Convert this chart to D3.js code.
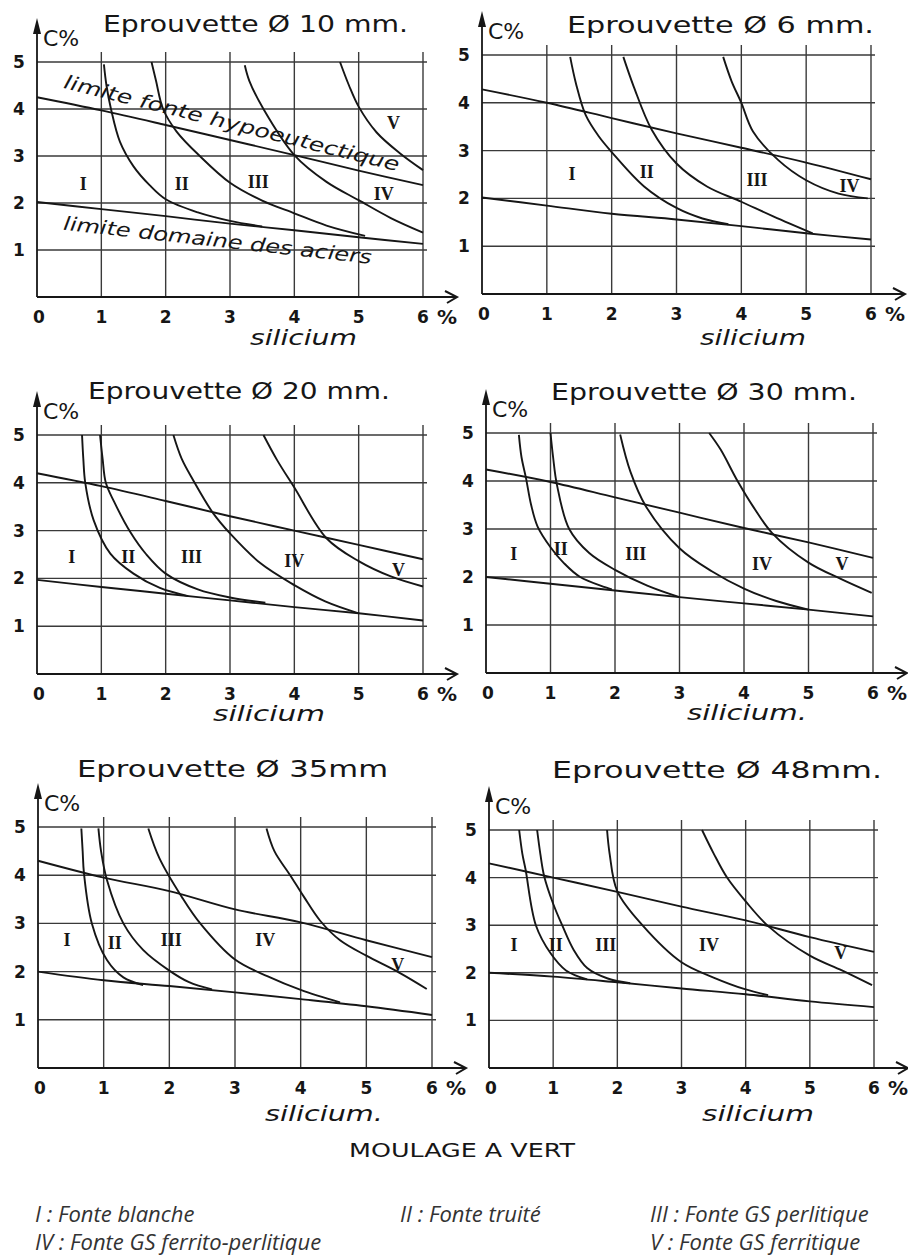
<!DOCTYPE html>
<html>
<head>
<meta charset="utf-8">
<script src="https://cdn.jsdelivr.net/npm/d3@7"></script>
<style>
  body { margin: 0; background: #fff; }
  svg { display: block; }
</style>
</head>
<body>
<div id="chart"></div>
<script>
// ---- data (Si %, C %) ----
const siTicks = [0, 1, 2, 3, 4, 5, 6];
const cTicks = [1, 2, 3, 4, 5];
const titles = ["Eprouvette Ø 10 mm.", "Eprouvette Ø 6 mm.", "Eprouvette Ø 20 mm.",
                "Eprouvette Ø 30 mm.", "Eprouvette Ø 35mm", "Eprouvette Ø 48mm."];
const xTitles = ["silicium", "silicium", "silicium", "silicium.", "silicium.", "silicium"];
const zoneNames = ["I", "II", "III", "IV", "V"];

// 10 mm
const upper10 = [[0,4.25],[1,3.97],[2,3.66],[3,3.34],[4,3.02],[5,2.69],[6,2.38]];
const lower10 = [[0,2.02],[1,1.87],[2,1.72],[3,1.56],[4,1.42],[5,1.27],[6,1.13]];
const curves10 = [
  [[1.04,4.95],[1.08,4.5],[1.15,4.0],[1.29,3.3],[1.5,2.78],[1.75,2.38],[2.0,2.08],[2.5,1.8],[3.0,1.62],[3.5,1.5]],
  [[1.78,5.0],[1.85,4.6],[1.96,4.0],[2.17,3.52],[2.53,3.0],[3.0,2.43],[3.5,2.05],[4.0,1.78],[4.5,1.52],[5.1,1.3]],
  [[3.23,4.93],[3.3,4.6],[3.52,4.0],[4.0,3.02],[4.5,2.45],[5.0,2.06],[5.5,1.68],[6.0,1.37]],
  [[4.71,5.0],[4.85,4.5],[5.0,4.05],[5.28,3.5],[5.64,3.06],[6.0,2.7]]
];
const labels10 = [[0.72,2.42],[2.25,2.42],[3.44,2.45],[5.39,2.2],[5.54,3.7]];

// 6 mm
const upper6 = [[0,4.28],[1,4.0],[2,3.68],[3,3.36],[4,3.06],[5,2.75],[6,2.4]];
const lower6 = [[0,2.02],[1,1.85],[2,1.68],[3,1.56],[4,1.42],[5,1.27],[6,1.14]];
const curves6 = [
  [[1.36,4.96],[1.45,4.4],[1.6,3.74],[1.8,3.3],[2.0,2.97],[2.5,2.25],[3.0,1.8],[3.4,1.58],[3.8,1.46]],
  [[2.18,4.96],[2.34,4.34],[2.62,3.43],[3.0,2.73],[3.47,2.25],[4.0,1.93],[4.5,1.62],[5.1,1.27]],
  [[3.72,4.96],[3.85,4.45],[4.0,4.0],[4.18,3.4],[4.57,2.8],[5.0,2.38],[5.5,2.1],[5.95,2.0]]
];
const labels6 = [[1.39,2.52],[2.54,2.56],[4.24,2.39],[5.67,2.26]];

// 20 mm
const upper20 = [[0,4.2],[1,3.93],[2,3.62],[3,3.3],[4,3.0],[5,2.7],[6,2.4]];
const lower20 = [[0,1.97],[1,1.82],[2,1.68],[3,1.54],[4,1.4],[5,1.27],[6,1.12]];
const curves20 = [
  [[0.7,5.0],[0.72,4.5],[0.75,4.0],[0.88,3.22],[1.14,2.52],[1.5,2.1],[1.91,1.8],[2.35,1.63]],
  [[0.98,5.0],[1.02,4.5],[1.07,4.0],[1.2,3.6],[1.45,2.97],[1.7,2.5],[2.0,2.1],[2.5,1.77],[3.0,1.6],[3.55,1.49]],
  [[2.12,5.0],[2.25,4.5],[2.43,4.05],[2.74,3.36],[3.0,2.94],[3.47,2.32],[4.0,1.86],[4.48,1.52],[5.0,1.27]],
  [[3.52,5.0],[3.73,4.48],[4.0,3.9],[4.5,2.84],[5.0,2.36],[5.5,2.04],[6.0,1.83]]
];
const labels20 = [[0.54,2.45],[1.42,2.45],[2.4,2.45],[4.0,2.38],[5.62,2.18]];

// 30 mm
const upper30 = [[0,4.24],[1,3.98],[2,3.66],[3,3.34],[4,3.02],[5,2.72],[6,2.4]];
const lower30 = [[0,2.0],[1,1.86],[2,1.72],[3,1.58],[4,1.45],[5,1.32],[6,1.18]];
const curves30 = [
  [[0.51,4.96],[0.55,4.5],[0.62,4.06],[0.7,3.5],[0.8,3.05],[1.0,2.62],[1.2,2.3],[1.46,2.0],[1.95,1.74]],
  [[1.0,5.0],[1.04,4.5],[1.1,3.92],[1.29,3.0],[1.6,2.5],[2.0,2.15],[2.5,1.82],[3.0,1.58]],
  [[2.08,4.97],[2.24,4.19],[2.48,3.47],[3.0,2.6],[3.5,2.12],[4.0,1.76],[4.5,1.5],[5.0,1.32]],
  [[3.46,5.0],[3.64,4.65],[3.9,4.0],[4.15,3.45],[4.44,2.91],[5.0,2.3],[5.5,1.96],[5.98,1.67]]
];
const labels30 = [[0.43,2.49],[1.16,2.6],[2.32,2.49],[4.28,2.28],[5.52,2.28]];

// 35 mm
const upper35 = [[0,4.3],[1,3.95],[2,3.67],[3,3.29],[4,3.02],[5,2.65],[6,2.3]];
const lower35 = [[0,2.0],[1,1.82],[2,1.7],[3,1.57],[4,1.43],[5,1.28],[6,1.1]];
const curves35 = [
  [[0.66,4.97],[0.68,4.5],[0.7,4.04],[0.82,3.0],[1.05,2.24],[1.3,1.88],[1.6,1.72]],
  [[0.92,4.97],[0.96,4.5],[1.05,3.9],[1.3,3.0],[1.6,2.45],[2.0,2.02],[2.3,1.78],[2.65,1.63]],
  [[1.68,4.97],[1.85,4.35],[2.19,3.55],[2.47,3.0],[3.0,2.25],[3.5,1.9],[4.0,1.62],[4.6,1.36]],
  [[3.48,4.97],[3.6,4.5],[3.84,4.0],[4.05,3.55],[4.3,3.05],[4.6,2.65],[5.0,2.33],[5.5,1.98],[5.92,1.64]]
];
const labels35 = [[0.44,2.66],[1.17,2.6],[2.03,2.66],[3.46,2.66],[5.48,2.14]];

// 48 mm
const upper48 = [[0,4.3],[1,4.0],[2,3.7],[3,3.39],[4,3.1],[5,2.75],[6,2.44]];
const lower48 = [[0,2.0],[1,1.92],[2,1.8],[3,1.67],[4,1.55],[5,1.4],[6,1.28]];
const curves48 = [
  [[0.47,5.0],[0.52,4.5],[0.57,4.17],[0.73,3.0],[0.96,2.41],[1.2,2.05],[1.53,1.86]],
  [[0.75,5.0],[0.8,4.5],[0.86,4.03],[1.0,3.45],[1.14,3.0],[1.32,2.48],[1.53,2.1],[1.85,1.88],[2.2,1.78]],
  [[1.84,5.0],[1.88,4.5],[2.0,3.71],[2.39,3.0],[3.0,2.22],[3.5,1.9],[4.0,1.65],[4.35,1.53]],
  [[3.32,5.0],[3.5,4.51],[3.71,4.0],[4.0,3.5],[4.36,2.97],[5.0,2.36],[5.5,2.05],[5.97,1.74]]
];
const labels48 = [[0.39,2.58],[1.04,2.6],[1.82,2.58],[3.43,2.58],[5.48,2.42]];

const legendText = ["I : Fonte blanche", "II : Fonte truité", "III : Fonte GS perlitique",
                    "IV : Fonte GS ferrito-perlitique", "V : Fonte GS ferritique"];

// ---- layout ----
const W = 908, H = 1256;
const hand = "'DejaVu Sans', sans-serif";
const ink = "#161616";

const panels = [
  { upper: upper10, lower: lower10, curves: curves10, labels: labels10,
    frame: { x0: 37, x6: 423, y0: 297, y5: 62 }, title: { x: 103, w: 305, y: 32 }, xt: { x: 250, w: 107, y: 345 } },
  { upper: upper6, lower: lower6, curves: curves6, labels: labels6,
    frame: { x0: 482, x6: 871, y0: 294, y5: 55 }, title: { x: 567, w: 307, y: 33 }, xt: { x: 700, w: 106, y: 345 } },
  { upper: upper20, lower: lower20, curves: curves20, labels: labels20,
    frame: { x0: 37, x6: 423, y0: 674, y5: 435 }, title: { x: 88, w: 302, y: 399 }, xt: { x: 213, w: 112, y: 721 } },
  { upper: upper30, lower: lower30, curves: curves30, labels: labels30,
    frame: { x0: 486, x6: 873, y0: 673, y5: 433 }, title: { x: 551, w: 306, y: 400 }, xt: { x: 687, w: 120, y: 720 } },
  { upper: upper35, lower: lower35, curves: curves35, labels: labels35,
    frame: { x0: 38, x6: 432, y0: 1068, y5: 827 }, title: { x: 77, w: 311, y: 777 }, xt: { x: 265, w: 118, y: 1121 } },
  { upper: upper48, lower: lower48, curves: curves48, labels: labels48,
    frame: { x0: 489, x6: 874, y0: 1068, y5: 830 }, title: { x: 552, w: 330, y: 778 }, xt: { x: 702, w: 112, y: 1121 } }
];

const svg = d3.select("#chart").append("svg")
    .attr("width", W)
    .attr("height", H);

svg.append("rect").attr("width", W).attr("height", H).attr("fill", "#fff");

panels.forEach((p, i) => {
    const f = p.frame;
    const x = d3.scaleLinear().domain([0, 6]).range([f.x0, f.x6]);
    const y = d3.scaleLinear().domain([0, 5]).range([f.y0, f.y5]);
    const g = svg.append("g");

    // grid
    g.append("g").selectAll("line")
        .data(siTicks.slice(1))
        .join("line")
        .attr("x1", d => x(d)).attr("x2", d => x(d))
        .attr("y1", y(0)).attr("y2", y(5) - 10)
        .attr("stroke", "#3a3a3a").attr("stroke-width", 1.4);

    g.append("g").selectAll("line")
        .data(cTicks)
        .join("line")
        .attr("x1", x(0)).attr("x2", x(6) + 4)
        .attr("y1", d => y(d)).attr("y2", d => y(d))
        .attr("stroke", "#3a3a3a").attr("stroke-width", 1.4);

    // axes with arrows
    const topY = y(5) - 44;
    g.append("line")
        .attr("x1", x(0)).attr("x2", x(0))
        .attr("y1", y(0)).attr("y2", topY + 4)
        .attr("stroke", ink).attr("stroke-width", 1.8);
    g.append("path")
        .attr("d", `M${x(0) - 4},${topY + 16} L${x(0)},${topY} L${x(0) + 4},${topY + 16} Z`)
        .attr("fill", ink);

    const endX = x(6) + 34;
    g.append("line")
        .attr("x1", x(0)).attr("x2", endX)
        .attr("y1", y(0)).attr("y2", y(0))
        .attr("stroke", ink).attr("stroke-width", 1.8);
    g.append("path")
        .attr("d", `M${endX - 12},${y(0) - 6} L${endX},${y(0)} L${endX - 10},${y(0) + 6}`)
        .attr("fill", "none").attr("stroke", ink).attr("stroke-width", 2);

    // tick labels
    g.append("g").selectAll("text")
        .data(siTicks)
        .join("text")
        .attr("x", d => x(d) + (d === 0 ? 2 : 0))
        .attr("y", y(0) + 26)
        .attr("text-anchor", "middle")
        .style("font-family", hand).style("font-size", "17px").style("font-weight", "bold")
        .attr("fill", ink)
        .text(d => d);

    g.append("g").selectAll("text")
        .data(cTicks)
        .join("text")
        .attr("x", x(0) - 18)
        .attr("y", d => y(d) + 6)
        .attr("text-anchor", "middle")
        .style("font-family", hand).style("font-size", "17px").style("font-weight", "bold")
        .attr("fill", ink)
        .text(d => d);

    g.append("text")
        .attr("x", x(6) + 24).attr("y", y(0) + 27)
        .attr("text-anchor", "middle")
        .style("font-family", hand).style("font-size", "20px").style("font-weight", "bold")
        .attr("fill", ink)
        .text("%");

    g.append("text")
        .attr("x", x(0) + 6).attr("y", y(5) - 16)
        .style("font-family", hand).style("font-size", "22px")
        .attr("fill", ink)
        .text("C%");

    // titles
    g.append("text")
        .attr("x", p.title.x).attr("y", p.title.y)
        .attr("textLength", p.title.w).attr("lengthAdjust", "spacingAndGlyphs")
        .style("font-family", hand).style("font-size", "23px")
        .attr("fill", ink)
        .text(titles[i]);

    g.append("text")
        .attr("x", p.xt.x).attr("y", p.xt.y)
        .attr("textLength", p.xt.w).attr("lengthAdjust", "spacingAndGlyphs")
        .style("font-family", hand).style("font-size", "21px").style("font-style", "italic")
        .attr("fill", ink)
        .text(xTitles[i]);

    // limit lines and zone boundaries
    const line = d3.line()
        .x(d => x(d[0]))
        .y(d => y(d[1]))
        .curve(d3.curveCatmullRom.alpha(0.5));

    [p.upper, p.lower].concat(p.curves).forEach(pts => {
        g.append("path")
            .attr("d", line(pts))
            .attr("fill", "none")
            .attr("stroke", ink)
            .attr("stroke-width", 1.9);
    });

    // zone numerals
    g.append("g").selectAll("text")
        .data(p.labels)
        .join("text")
        .attr("x", d => x(d[0]))
        .attr("y", d => y(d[1]))
        .attr("dy", "0.35em")
        .attr("text-anchor", "middle")
        .style("font-family", "'Liberation Serif', serif").style("font-size", "18px").style("font-weight", "bold")
        .attr("fill", ink)
        .text((d, j) => zoneNames[j]);

    // annotations written along the limits on the first panel
    if (i === 0) {
        g.append("text")
            .attr("transform", `translate(${x(0.4)},${y(4.45)}) rotate(14)`)
            .attr("textLength", 345).attr("lengthAdjust", "spacingAndGlyphs")
            .style("font-family", hand).style("font-size", "19px").style("font-style", "italic")
            .attr("fill", ink)
            .text("limite fonte hypoeutectique");
        g.append("text")
            .attr("transform", `translate(${x(0.4)},${y(1.43)}) rotate(6.3)`)
            .attr("textLength", 310).attr("lengthAdjust", "spacingAndGlyphs")
            .style("font-family", hand).style("font-size", "19px").style("font-style", "italic")
            .attr("fill", ink)
            .text("limite domaine des aciers");
    }
});

// footer
svg.append("text")
    .attr("x", 349).attr("y", 1157)
    .attr("textLength", 226).attr("lengthAdjust", "spacingAndGlyphs")
    .style("font-family", hand).style("font-size", "20px")
    .attr("fill", ink)
    .text("MOULAGE A VERT");

const legendPos = [[35, 1222], [400, 1222], [650, 1222], [35, 1250], [650, 1250]];
svg.append("g").selectAll("text")
    .data(legendText)
    .join("text")
    .attr("x", (d, j) => legendPos[j][0])
    .attr("y", (d, j) => legendPos[j][1])
    .style("font-family", "'Liberation Sans Narrow', 'Open Sans', sans-serif")
    .style("font-size", "22px").style("font-style", "italic")
    .attr("fill", "#333")
    .text(d => d);
</script>
</body>
</html>
